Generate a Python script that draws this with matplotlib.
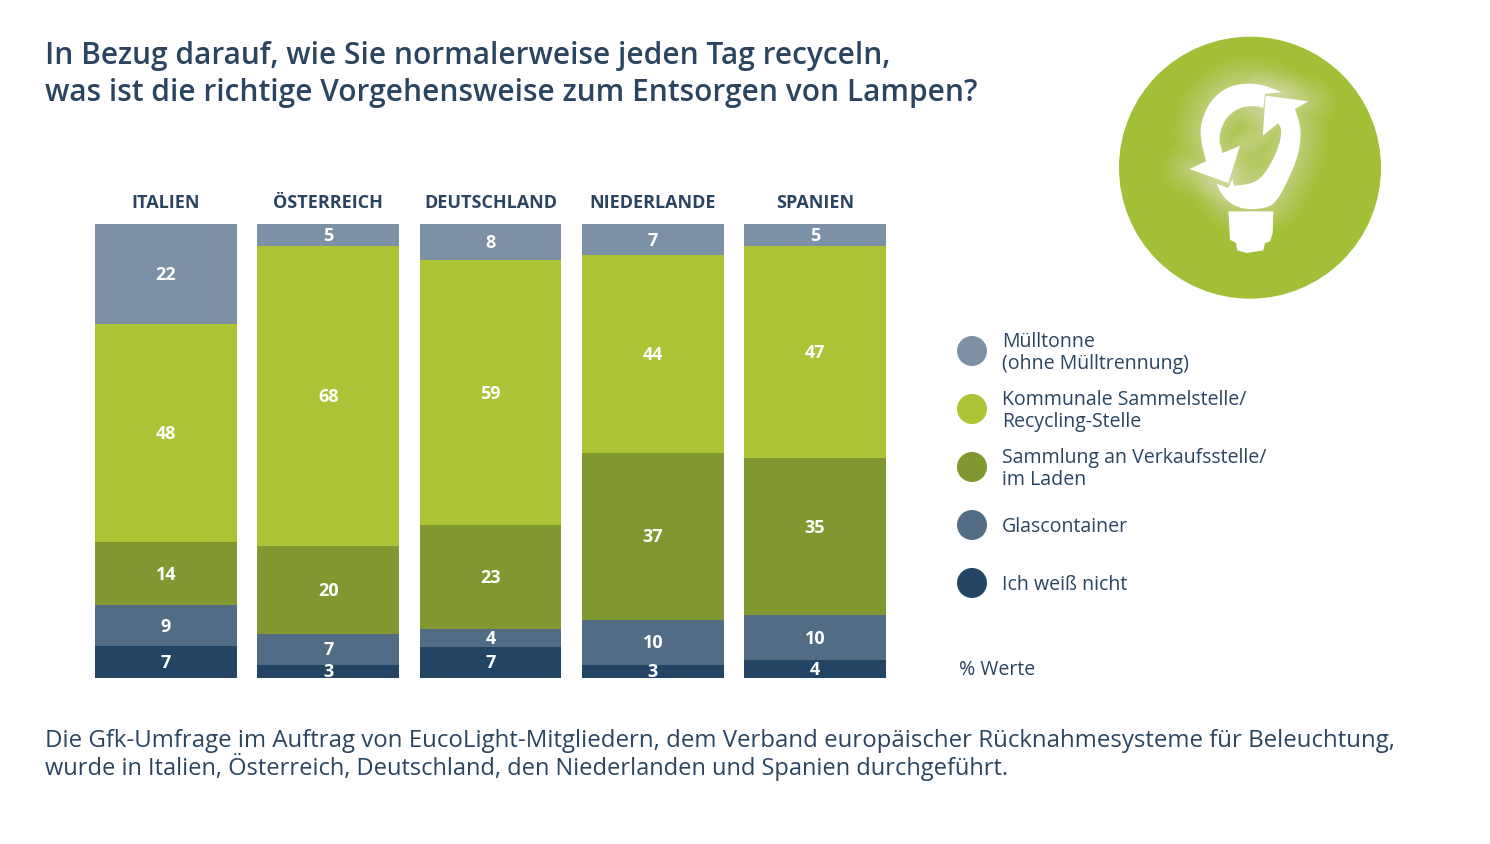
import matplotlib.pyplot as plt
from matplotlib.patches import Circle, Polygon
import numpy as np

plt.rcParams['font.family'] = ['Open Sans', 'DejaVu Sans']

# Daten
laender = ['ITALIEN', 'ÖSTERREICH', 'DEUTSCHLAND', 'NIEDERLANDE', 'SPANIEN']
muelltonne = [22, 5, 8, 7, 5]
sammelstelle = [48, 68, 59, 44, 47]
verkaufsstelle = [14, 20, 23, 37, 35]
glascontainer = [9, 7, 4, 10, 10]
weiss_nicht = [7, 3, 7, 3, 4]
serien = [muelltonne, sammelstelle, verkaufsstelle, glascontainer, weiss_nicht]
legende = ['Mülltonne\n(ohne Mülltrennung)', 'Kommunale Sammelstelle/\nRecycling-Stelle',
           'Sammlung an Verkaufsstelle/\nim Laden', 'Glascontainer', 'Ich weiß nicht']
farben = ['#7d91a6', '#abc334', '#80982f', '#526c85', '#234563']

dunkel = '#2b4560'
fig = plt.figure(figsize=(14.9, 8.45), dpi=100, facecolor='white')

# Hintergrund-Achse in Pixeln fuer Text, Legende, Icon
bg = fig.add_axes([0, 0, 1, 1])
bg.set_xlim(0, 1490)
bg.set_ylim(845, 0)
bg.axis('off')

bg.text(45, 56, 'In Bezug darauf, wie Sie normalerweise jeden Tag recyceln,', fontsize=21.5,
        fontweight='semibold', color=dunkel, va='center')
bg.text(45, 93, 'was ist die richtige Vorgehensweise zum Entsorgen von Lampen?', fontsize=21.5,
        fontweight='semibold', color=dunkel, va='center')
bg.text(45, 741, 'Die Gfk-Umfrage im Auftrag von EucoLight-Mitgliedern, dem Verband europäischer Rücknahmesysteme für Beleuchtung,',
        fontsize=17.25, color=dunkel, va='center')
bg.text(45, 767, 'wurde in Italien, Österreich, Deutschland, den Niederlanden und Spanien durchgeführt.',
        fontsize=17.05, color=dunkel, va='center')

# Legende
for y, farbe, text in zip([352, 410, 468, 526, 584], farben, legende):
    bg.add_patch(Circle((972, y), 15, facecolor=farbe, edgecolor='none'))
    bg.text(1002, y + 1, text, fontsize=14.05, color=dunkel, va='center', linespacing=1.17)
bg.text(959, 670, '% Werte', fontsize=14.05, color=dunkel, va='center')

# Balken, auf 100 % normiert
werte = np.array(serien, dtype=float)
anteile = werte / werte.sum(axis=0) * 100
ax = fig.add_axes([95 / 1490, 1 - 679 / 845, 791 / 1490, 454 / 845])
ax.patch.set_alpha(0)
x = np.arange(len(laender))
unten = np.zeros(len(laender))
for i, farbe in enumerate(farben):
    balken = ax.bar(x, anteile[i], bottom=unten, width=0.874, color=farbe)
    texte = ax.bar_label(balken, labels=[str(int(v)) for v in werte[i]], label_type='center',
                         color='white', fontsize=13, fontweight='bold')
    if i == 2:
        # die 35 bei Spanien sitzt im Original hoeher
        texte[4].xyann = (0, 7)
    unten += anteile[i]
ax.set_xlim(-0.437, 4.437)
ax.set_ylim(100, 0)
ax.set_yticks([])
ax.xaxis.tick_top()
ax.set_xticks(x, laender, fontsize=13, fontweight='bold', color=dunkel)
ax.tick_params(axis='x', length=0, pad=9.2)
for s in ax.spines.values():
    s.set_visible(False)

# Icon: Gluehbirne mit Recycling-Pfeilen
def px(punkte):
    return [(1100 + a / 3, 20.7 + b / 3) for a, b in punkte]

def rund(punkte, n=3):
    # Ecken abrunden, Endpunkte bleiben
    p = np.array(punkte, dtype=float)
    for _ in range(n):
        q = [p[0]]
        for a, b in zip(p[:-1], p[1:]):
            q += [0.75 * a + 0.25 * b, 0.25 * a + 0.75 * b]
        q.append(p[-1])
        p = np.array(q)
    return [tuple(v) for v in p]

bg.add_patch(Circle((1250, 168.7), 131, facecolor='#a3bf37', edgecolor='none'))
pfeil_links = px(rund([(545, 218), (490, 195), (430, 190), (375, 205), (330, 245), (305, 300), (300, 350), (318, 425)])
                 + [(268, 448), (385, 490), (420, 378)]
                 + rund([(368, 400), (355, 355), (375, 295), (420, 262), (470, 258), (490, 265)])
                 + [(495, 222)])
pfeil_rechts = px([(497, 228), (625, 245)]
                  + rund([(585, 268), (605, 330), (595, 410), (560, 490), (530, 545), (500, 565),
                          (440, 570), (395, 555), (365, 525), (350, 492)])
                  + [(385, 505), (397, 478)]
                  + rund([(402, 498), (440, 495), (480, 480), (515, 430), (540, 370), (545, 330), (535, 310)])
                  + [(488, 348)])
sockel = px([(385, 575), (520, 575), (518, 640), (510, 665), (495, 670), (490, 692), (440, 700),
             (412, 692), (408, 670), (390, 660)])
for form in [pfeil_links, pfeil_rechts]:
    for lw in [3, 6, 9, 12, 15, 18, 21, 24, 27, 30, 34, 38]:
        bg.add_patch(Polygon(form, closed=True, fill=False, edgecolor='white', lw=lw, alpha=0.03,
                             joinstyle='round'))
for form in [pfeil_links, pfeil_rechts, sockel]:
    bg.add_patch(Polygon(form, closed=True, facecolor='white', edgecolor='none'))

fig.savefig('out.png', dpi=100)
